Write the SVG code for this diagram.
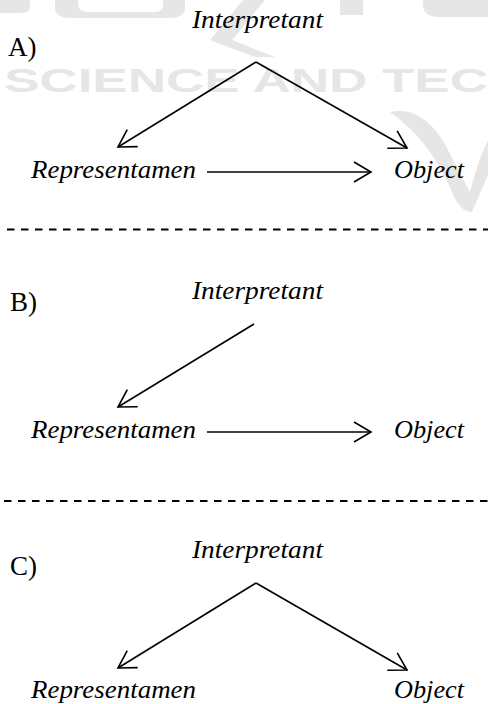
<svg xmlns="http://www.w3.org/2000/svg" width="488" height="704" viewBox="0 0 488 704">
<style>
.wm{fill:#e6e6e6}
.wt{font-family:"Liberation Sans",sans-serif;font-weight:bold;font-size:34px;fill:#e6e6e6}
.lbl{font-family:'Liberation Serif',serif;font-style:italic;font-size:25px;fill:#000}
.sec{font-family:'Liberation Serif',serif;font-size:27px;fill:#000}
.edge{stroke:#000;stroke-width:1.6;fill:none;marker-end:url(#ah)}
.sep{stroke:#000;stroke-width:2;stroke-dasharray:7.5 6.5}
</style>
<defs>
<marker id="ah" markerUnits="userSpaceOnUse" markerWidth="40" markerHeight="40" refX="0" refY="0" orient="auto" overflow="visible" viewBox="-20 -20 40 40">
<path d="M-17,-10 L0,0 L-17,10" fill="none" stroke="#000" stroke-width="1.6"/>
</marker>
</defs>
<rect width="488" height="704" fill="#fff"/>
<g id="watermark">
<path class="wm" d="M0,0 L30,0 L30,6 Q30,13 22,13 L0,13 Z"/>
<path class="wm" d="M55,0 L78,0 L78,4 Q78,12 90,12 L155,12 Q163,12 163,4 L163,0 L185,0 L185,8 Q185,18 170,18 L70,18 Q55,18 55,8 Z"/>
<path class="wm" d="M243,0 L265,0 L232,40 L275,57 L255,57 L210,40 Z"/>
<rect class="wm" x="340" y="0" width="23" height="15"/>
<path class="wm" d="M423,0 L488,0 L488,17 L440,17 Q423,17 423,5 Z"/>
<path class="wm" d="M390,112 Q425,105 448,150 L470,192 Q478,160 488,140 L488,175 L472,212 Q460,212 452,192 Q430,140 390,112 Z"/>
<text class="wt" x="4" y="92" textLength="484" lengthAdjust="spacingAndGlyphs">SCIENCE AND TEC</text>
</g>
<g id="connectors">
<line class="edge" x1="256" y1="62" x2="118" y2="147"/>
<line class="edge" x1="256" y1="62" x2="407" y2="148"/>
<line class="edge" x1="207" y1="172" x2="371" y2="172"/>
<line class="edge" x1="254" y1="324" x2="118" y2="407"/>
<line class="edge" x1="207" y1="432" x2="371" y2="432"/>
<line class="edge" x1="256" y1="583" x2="118" y2="668"/>
<line class="edge" x1="256" y1="583" x2="407" y2="670"/>
<line class="sep" x1="7" y1="229.5" x2="488" y2="229.5"/>
<line class="sep" x1="4" y1="501" x2="488" y2="501"/>
</g>
<g id="A-label"><text class="sec" x="8" y="56">A)</text></g>
<g id="A-interpretant"><text class="lbl" x="192" y="28" textLength="131" lengthAdjust="spacingAndGlyphs">Interpretant</text></g>
<g id="A-representamen"><text class="lbl" x="31" y="178" textLength="165" lengthAdjust="spacingAndGlyphs">Representamen</text></g>
<g id="A-object"><text class="lbl" x="394" y="178" textLength="70" lengthAdjust="spacingAndGlyphs">Object</text></g>
<g id="B-label"><text class="sec" x="10" y="311">B)</text></g>
<g id="B-interpretant"><text class="lbl" x="192" y="299" textLength="131" lengthAdjust="spacingAndGlyphs">Interpretant</text></g>
<g id="B-representamen"><text class="lbl" x="31" y="438" textLength="165" lengthAdjust="spacingAndGlyphs">Representamen</text></g>
<g id="B-object"><text class="lbl" x="394" y="438" textLength="70" lengthAdjust="spacingAndGlyphs">Object</text></g>
<g id="C-label"><text class="sec" x="10" y="575">C)</text></g>
<g id="C-interpretant"><text class="lbl" x="192" y="558" textLength="131" lengthAdjust="spacingAndGlyphs">Interpretant</text></g>
<g id="C-representamen"><text class="lbl" x="31" y="698" textLength="165" lengthAdjust="spacingAndGlyphs">Representamen</text></g>
<g id="C-object"><text class="lbl" x="394" y="698" textLength="70" lengthAdjust="spacingAndGlyphs">Object</text></g>
</svg>
